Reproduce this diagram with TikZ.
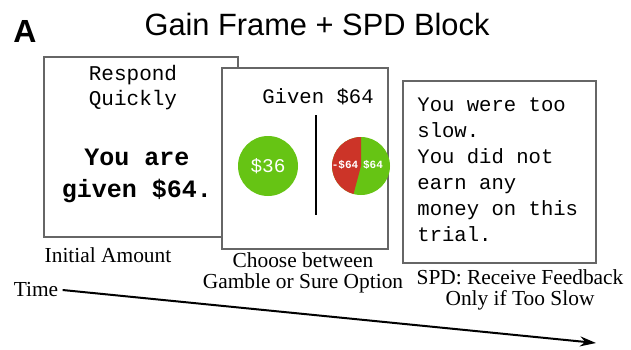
\documentclass[tikz,border=0pt]{standalone}
\usepackage{fontspec}
\setmainfont{Liberation Serif}
\setsansfont{Liberation Sans}
\setmonofont{Liberation Mono}
\usepackage{tikz}
\usetikzlibrary{%
  positioning
 ,arrows.meta
}
\definecolor{coingreen}{RGB}{102,196,20}
\definecolor{coinred}{RGB}{204,52,40}
\tikzstyle{screen}=[draw=black!60,line width=1pt,fill=white,inner sep=0pt]
\tikzstyle{mono}=[font=\ttfamily\fontsize{10.3}{13}\selectfont,inner sep=0pt]
\tikzstyle{capt}=[font=\fontsize{10.7}{10.5}\selectfont,align=center,inner sep=0pt]
\tikzstyle{coin}=[circle,fill=coingreen,minimum size=30pt,inner sep=0pt,text=white,font=\ttfamily\fontsize{9.7}{10}\selectfont]
\tikzstyle{odds}=[font=\ttfamily\bfseries\fontsize{5.5}{6}\selectfont,text=white,inner sep=0pt]

\begin{document}
\begin{tikzpicture}[x=0.5pt,y=-0.5pt]
  \useasboundingbox (0,0) rectangle (631,349);
  \node[font=\sffamily\bfseries\fontsize{16}{16}\selectfont,inner sep=0pt] (panel) at (25,31) {A};
  \node[font=\sffamily\fontsize{15.4}{16}\selectfont,inner sep=0pt] (title) at (317,24) {Gain Frame + SPD Block};
% screens
  \node[screen,minimum width=97pt,minimum height=90pt]    (init)     at (141,147)   {};
  \node[screen,minimum width=83pt,minimum height=90.5pt]  (choice)   at (305,158.5) {};
  \node[screen,minimum width=96.5pt,minimum height=91pt]  (feedback) at (499,171.5) {};
% initial amount
  \node[mono,align=center,font=\ttfamily\fontsize{10.5}{12.5}\selectfont] (respond) at (133,88) {Respond\\Quickly};
  \node[mono,align=center,font=\ttfamily\bfseries\fontsize{12.5}{16}\selectfont] (amount) at (137,176) {You are\\given \$64.};
% choice
  \node[mono] (given) at (318,97) {Given \$64};
  \node[coin] (sure) at (268,166) {\$36};
  \node[coin,minimum size=29pt] (gamble) at (361,166) {};
  \fill[coinred] (gamble.center) -- ++(90:14.5pt) arc[start angle=90,end angle=255,radius=14.5pt] -- cycle;
  \node[odds] (loss) at (345,165) {-\$64};
  \node[odds] (win)  at (373,165) {\$64};
  \coordinate (divtop) at (316,115);
  \coordinate (divbot) at (316,215);
  \draw[line width=0.8pt] (divtop) -- (divbot);
% feedback
  \node[mono,align=left,anchor=north west] (slow) at (417,97) {You were too\\slow.\\You did not\\earn any\\money on this\\trial.};
% captions
  \node[capt] (c_init)   at (108,255) {Initial Amount};
  \node[capt] (c_choice) at (303,273) {Choose between\\Gamble or Sure Option};
  \node[capt] (c_fb)     at (520,290) {SPD: Receive Feedback\\Only if Too Slow};
% time axis
  \node[capt] (time) at (36,290) {Time};
  \coordinate (tend) at (596,343);
  \draw[-{Stealth[length=8pt,width=5pt]},line width=1pt] ([xshift=2pt]time.east) -- (tend);
\end{tikzpicture}
\end{document}
